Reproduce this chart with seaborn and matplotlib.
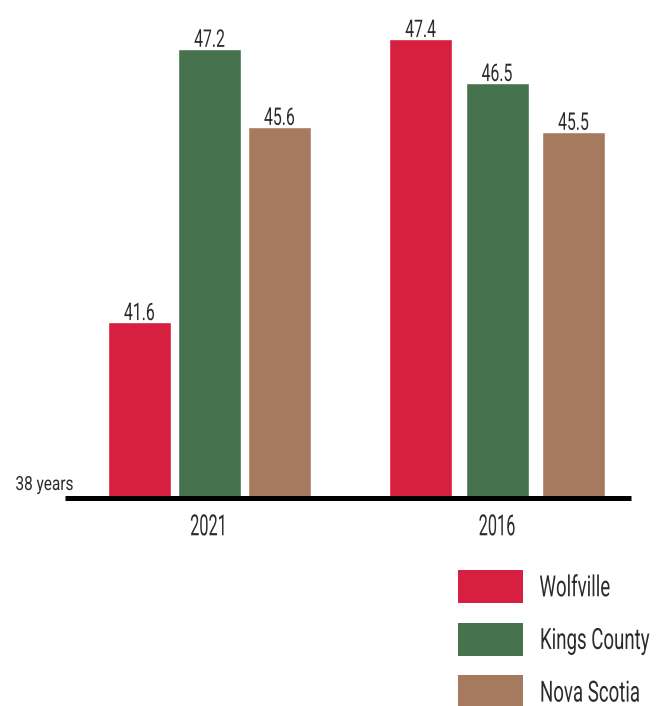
import matplotlib
matplotlib.use("Agg")
import matplotlib.pyplot as plt
import pandas as pd
import seaborn as sns
from matplotlib.patheffects import AbstractPathEffect
from matplotlib.transforms import Affine2D

# Median age by community, census years
years = ["2021", "2016"]
regions = ["Wolfville", "Kings County", "Nova Scotia"]
wolfville = [41.6, 47.4]
kings_county = [47.2, 46.5]
nova_scotia = [45.6, 45.5]
baseline_label = "38 years"

colors = ["#D71F3F", "#46734E", "#A57A5E"]

# Layout: horizontal centre of each year group and spacing between its bars
group_centers = [209.5, 497.0]
group_steps = [70.0, 76.5]


class Condensed(AbstractPathEffect):
    """Draw text glyphs squeezed horizontally (a condensed face look)."""

    def __init__(self, sx=0.62, anchor="center"):
        super().__init__()
        self.sx = sx
        self.anchor = anchor

    def draw_path(self, renderer, gc, tpath, affine, rgbFace=None):
        ext = tpath.get_extents()
        if self.anchor == "left":
            cx = ext.x0
        elif self.anchor == "right":
            cx = ext.x1
        else:
            cx = 0.5 * (ext.x0 + ext.x1)
        squeeze = Affine2D().translate(-cx, 0).scale(self.sx, 1).translate(cx, 0)
        renderer.draw_path(gc, tpath, squeeze + affine, rgbFace)


values = [wolfville, kings_county, nova_scotia]
rows = []
for gi, year in enumerate(years):
    for ri, region in enumerate(regions):
        rows.append({
            "year": year,
            "region": region,
            "age": values[ri][gi],
            "pos": group_centers[gi] + (ri - 1) * group_steps[gi],
        })
df = pd.DataFrame(rows)

sns.set_theme(style="white")
plt.rcParams["font.family"] = ["Roboto", "DejaVu Sans"]
text_color = "#2b2b2b"

W, H = 668, 706
fig = plt.figure(figsize=(W / 100, H / 100), dpi=100)
ax_left, ax_right, ax_bottom, ax_top = 65, 631, 498, 10
ax = fig.add_axes([ax_left / W, 1 - ax_bottom / H,
                   (ax_right - ax_left) / W, (ax_bottom - ax_top) / H])

sns.barplot(data=df, x="pos", y="age", hue="region", hue_order=regions,
            palette=colors, native_scale=True, dodge=False, width=0.9,
            saturation=1, errorbar=None, ax=ax)

ax.set_xlim(ax_left, ax_right)
ax.set_ylim(38, 48)

for cont in ax.containers:
    labels = ax.bar_label(cont, fmt="%.1f", padding=-2, fontsize=17.5,
                          color=text_color)
    for t in labels:
        t.set_path_effects([Condensed(0.65, "center")])

ax.set_xticks(group_centers)
ax.set_xticklabels(years, fontsize=21, color=text_color)
for t in ax.get_xticklabels():
    t.set_path_effects([Condensed(0.56, "center")])
ax.tick_params(axis="x", length=0, pad=11)
ax.set_yticks([])
ax.set_xlabel("")
ax.set_ylabel("")
for s in ["top", "right", "left"]:
    ax.spines[s].set_visible(False)
ax.spines["bottom"].set_linewidth(3.6)
ax.spines["bottom"].set_color("black")
ax.spines["bottom"].set_capstyle("butt")

bl = fig.text(74 / W, 1 - 490 / H, baseline_label, ha="right", va="baseline",
              fontsize=14, color=text_color)
bl.set_path_effects([Condensed(0.79, "right")])

handles, labels = ax.get_legend_handles_labels()
leg = ax.legend(handles, labels, loc="upper left",
                bbox_to_anchor=(458 / W, 1 - 570 / H),
                bbox_transform=fig.transFigure,
                frameon=False, fontsize=21, handlelength=2.23,
                handleheight=1.37, handletextpad=0.55, labelspacing=0.67,
                borderpad=0, borderaxespad=0, labelcolor=text_color)
for t in leg.get_texts():
    t.set_path_effects([Condensed(0.64, "left")])
for h in leg.legend_handles:
    h.set_edgecolor("none")

fig.savefig("out.png", dpi=100)
